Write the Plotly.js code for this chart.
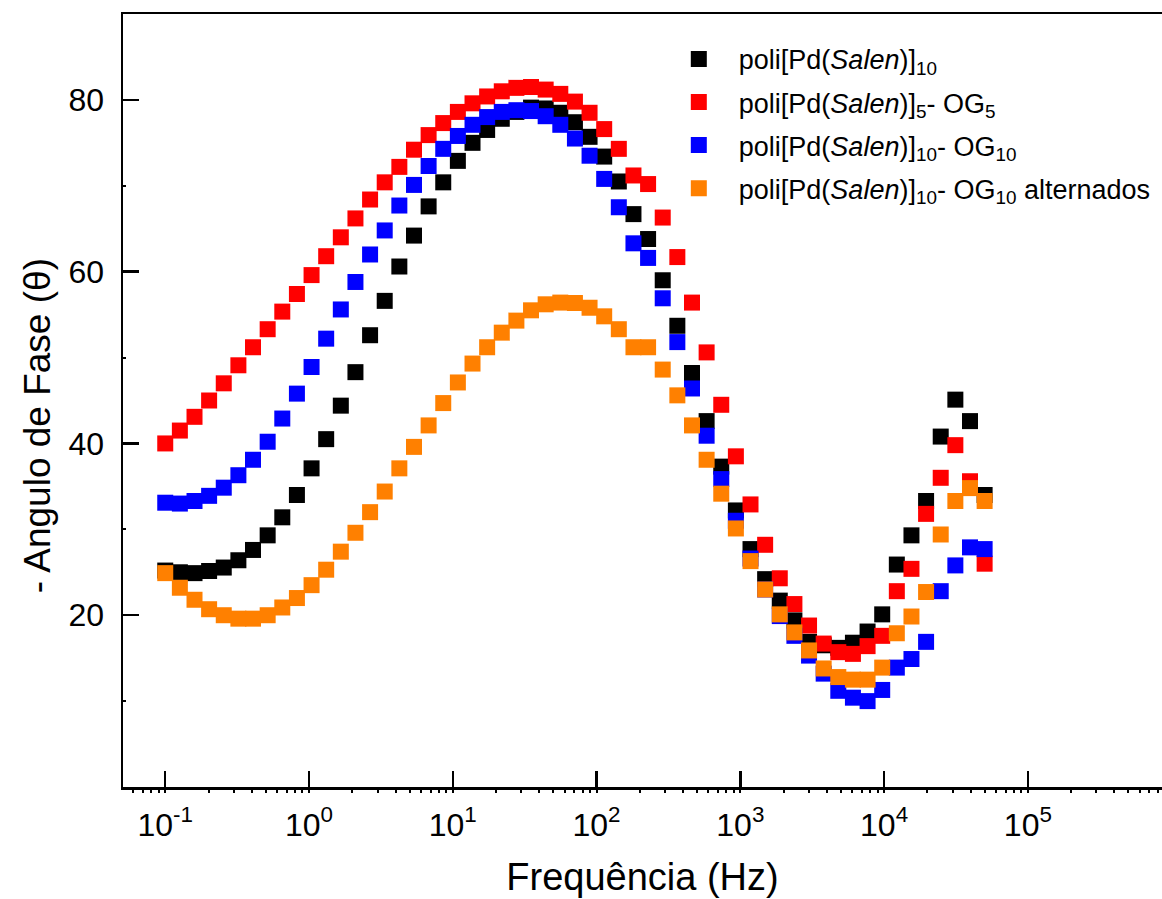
<!DOCTYPE html>
<html>
<head>
<meta charset="utf-8">
<script src="https://cdn.plot.ly/plotly-3.0.1.min.js"></script>
<style>html,body{margin:0;padding:0;background:#fff;}#chart{width:1162px;height:899px;}</style>
</head>
<body>
<div id="chart"></div>
<script>
// Frequencies (Hz): ~10 points per decade, 0.1 Hz to 50 kHz
var freq = [0.1, 0.1264, 0.1598, 0.2019, 0.2553, 0.3227, 0.4079, 0.5157, 0.6519, 0.824,
  1.0416, 1.3166, 1.6643, 2.1038, 2.6594, 3.3617, 4.2494, 5.3716, 6.7901, 8.5832,
  10.85, 13.715, 17.337, 21.915, 27.702, 35.018, 44.265, 55.954, 70.73, 89.408,
  113.02, 142.86, 180.59, 228.28, 288.56, 364.76, 461.09, 582.85, 736.77, 931.33,
  1177.3, 1488.1, 1881.1, 2377.9, 3005.8, 3799.6, 4802.9, 6071.3, 7674.5, 9701.1,
  12263, 15501, 19594, 24769, 31310, 39578, 50030];

// - phase angle (degrees)
var pdSalen10 = [25.2, 25.0, 24.9, 25.15, 25.55, 26.4, 27.6, 29.3, 31.4, 34.0,
  37.1, 40.5, 44.4, 48.3, 52.6, 56.6, 60.6, 64.2, 67.6, 70.4,
  72.9, 75.0, 76.5, 77.8, 78.6, 79.1, 79.0, 78.5, 77.4, 75.7,
  73.4, 70.5, 66.7, 63.8, 59.0, 53.7, 48.2, 42.6, 37.3, 32.2,
  27.7, 24.2, 21.7, 19.4, 16.9, 16.5, 16.2, 16.8, 18.1, 20.1,
  25.9, 29.3, 33.3, 40.8, 45.1, 42.6, 34.0];

var pdSalen5OG5 = [40.0, 41.5, 43.1, 45.0, 47.0, 49.1, 51.2, 53.3, 55.35, 57.4,
  59.6, 61.8, 64.0, 66.2, 68.4, 70.4, 72.2, 74.2, 75.9, 77.3,
  78.6, 79.6, 80.4, 81.0, 81.4, 81.5, 81.2, 80.7, 79.8, 78.5,
  76.6, 74.3, 71.2, 70.2, 66.3, 61.7, 56.4, 50.6, 44.5, 38.5,
  32.9, 28.2, 24.3, 21.3, 18.8, 16.7, 15.7, 15.5, 16.4, 17.6,
  22.8, 25.4, 31.8, 36.0, 39.8, 35.6, 26.0];

var pdSalen10OG10 = [33.1, 33.0, 33.3, 33.9, 34.85, 36.3, 38.1, 40.2, 42.9, 45.8,
  48.9, 52.2, 55.6, 58.8, 62.0, 64.8, 67.7, 70.1, 72.3, 74.3,
  75.8, 77.1, 78.0, 78.6, 78.8, 78.7, 78.1, 77.1, 75.5, 73.5,
  70.8, 67.5, 63.3, 61.6, 56.9, 51.8, 46.4, 40.9, 35.85, 31.0,
  26.6, 23.0, 19.9, 17.6, 15.3, 13.2, 11.2, 10.4, 10.0, 11.3,
  13.9, 14.9, 16.9, 22.8, 25.8, 27.9, 27.7];

var pdSalen10OG10alt = [24.9, 23.2, 21.8, 20.7, 20.0, 19.6, 19.6, 20.0, 20.9, 22.0,
  23.5, 25.3, 27.4, 29.6, 32.0, 34.4, 37.1, 39.6, 42.1, 44.7,
  47.1, 49.3, 51.2, 52.9, 54.3, 55.5, 56.2, 56.4, 56.35, 55.8,
  54.8, 53.3, 51.2, 51.2, 48.6, 45.6, 42.1, 38.1, 34.15, 30.1,
  26.3, 23.0, 20.1, 18.0, 15.9, 13.8, 12.8, 12.5, 12.5, 13.9,
  17.9, 19.85, 22.7, 29.4, 33.3, 34.8, 33.3];

var seriesNames = [
  'poli[Pd(<i>Salen</i>)]<sub>10</sub>',
  'poli[Pd(<i>Salen</i>)]<sub>5</sub>- OG<sub>5</sub>',
  'poli[Pd(<i>Salen</i>)]<sub>10</sub>- OG<sub>10</sub>',
  'poli[Pd(<i>Salen</i>)]<sub>10</sub>- OG<sub>10</sub> alternados'
];
var seriesData = [pdSalen10, pdSalen5OG5, pdSalen10OG10, pdSalen10OG10alt];
var seriesColors = ['#000000', '#FF0000', '#0000FF', '#FF8000'];

var xTickVals = [0.1, 1, 10, 100, 1000, 10000, 100000];
var xTickText = ['10<sup>-1</sup>', '10<sup>0</sup>', '10<sup>1</sup>', '10<sup>2</sup>', '10<sup>3</sup>', '10<sup>4</sup>', '10<sup>5</sup>'];
var yTickVals = [20, 40, 60, 80];
var yMinorVals = [10, 30, 50, 70];
var xTitle = 'Frequência (Hz)';
var yTitle = '- Angulo de Fase (θ)';

var FONT = 'Liberation Sans, Arial, Helvetica, sans-serif';

var traces = seriesData.map(function (ys, k) {
  return {
    type: 'scatter',
    mode: 'markers',
    x: freq,
    y: ys,
    name: seriesNames[k],
    legendgroup: 'g' + k,
    marker: { symbol: 'square', size: 16, color: seriesColors[k], line: { width: 0 } },
    hoverinfo: 'x+y'
  };
});

var layout = {
  width: 1162,
  height: 899,
  margin: { l: 123, r: 0, t: 14, b: 112, pad: 0 },
  paper_bgcolor: '#ffffff',
  plot_bgcolor: '#ffffff',
  font: { family: FONT, color: '#000000', size: 32 },
  showlegend: true,
  legend: {
    x: 0.5157, y: 0.973, xanchor: 'left', yanchor: 'top',
    bgcolor: 'rgba(0,0,0,0)',
    font: { family: FONT, size: 27, color: '#000000' },
    itemwidth: 70,
    tracegroupgap: 5,
    traceorder: 'grouped'
  },
  xaxis: {
    type: 'log',
    range: [-1.2938, 5.933],
    showgrid: false,
    zeroline: false,
    showline: true,
    linecolor: '#000000',
    linewidth: 2.5,
    mirror: true,
    ticks: 'inside',
    ticklen: 16,
    tickwidth: 2.5,
    tickcolor: '#000000',
    tickmode: 'array',
    tickvals: xTickVals,
    ticktext: xTickText,
    tickfont: { family: FONT, size: 32, color: '#000000' },
    ticklabelstandoff: 8,
    minor: { dtick: 'D1', ticks: 'outside', ticklen: 3, tickwidth: 2, tickcolor: '#000000', showgrid: false },
    title: { text: xTitle, font: { family: FONT, size: 38, color: '#000000' }, standoff: 22 },
    automargin: false
  },
  yaxis: {
    range: [0, 90],
    showgrid: false,
    zeroline: false,
    showline: true,
    linecolor: '#000000',
    linewidth: 2.5,
    mirror: false,
    ticks: 'inside',
    ticklen: 16,
    tickwidth: 2.5,
    tickcolor: '#000000',
    tickmode: 'array',
    tickvals: yTickVals,
    tickfont: { family: FONT, size: 32, color: '#000000' },
    ticklabelstandoff: 10,
    minor: { tickmode: 'array', tickvals: yMinorVals, ticks: 'inside', ticklen: 3, tickwidth: 2, tickcolor: '#000000', showgrid: false },
    automargin: false
  },
  annotations: [{
    text: yTitle,
    xref: 'paper', yref: 'paper',
    x: -0.0825, y: 0.467,
    xanchor: 'center', yanchor: 'middle',
    textangle: -90,
    showarrow: false,
    font: { family: FONT, size: 37, color: '#000000' }
  }]
};

Plotly.newPlot('chart', traces, layout, { staticPlot: true, displayModeBar: false });
</script>
</body>
</html>
